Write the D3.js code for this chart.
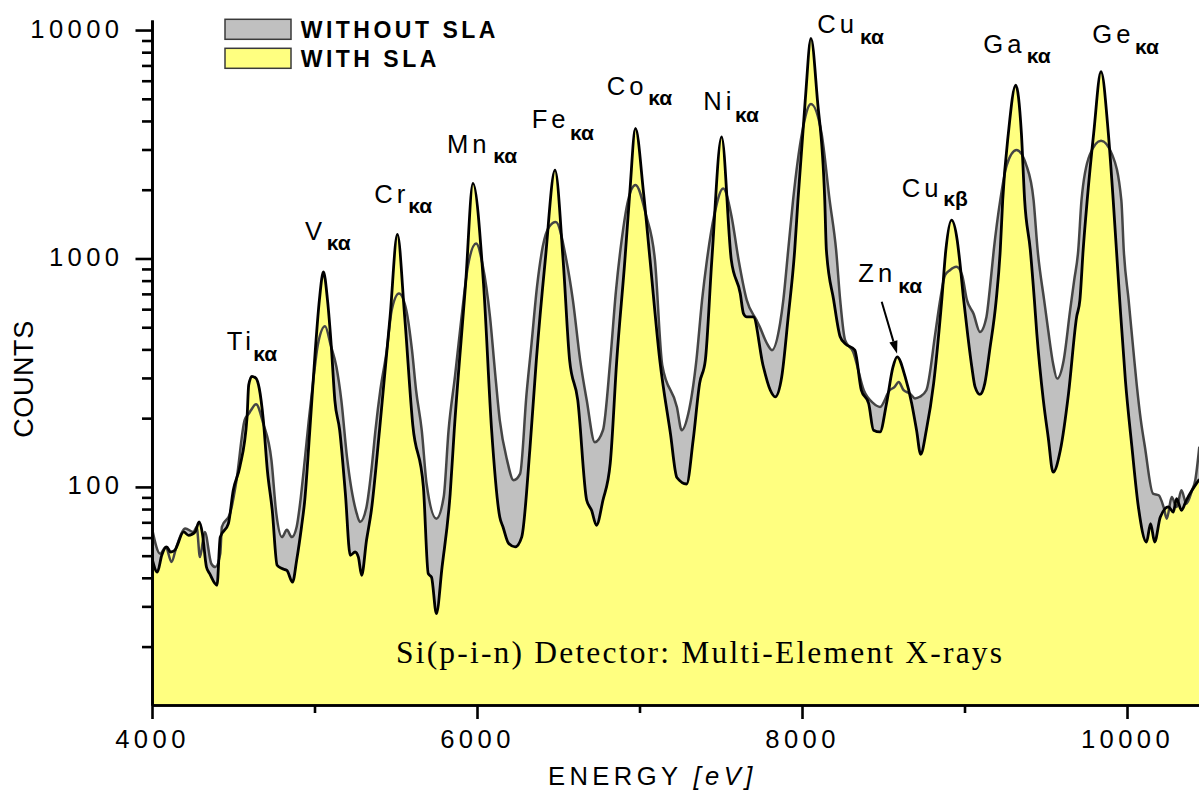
<!DOCTYPE html>
<html>
<head>
<meta charset="utf-8">
<script src="https://cdn.jsdelivr.net/npm/d3@7"></script>
<style>
  html, body { margin: 0; padding: 0; background: #fff; }
  svg { display: block; }
</style>
</head>
<body>
<svg id="chart" width="1199" height="791"></svg>
<script>
// Spectrum with the SLA: [energy (eV), counts]
const withSLA = [
  [4000,48.7],[4033,42.4],[4060,50.2],[4090,54.6],[4115,51.9],[4140,52.8],[4195,63.5],[4225,61.4],
  [4265,63.5],[4290,70.2],[4310,62.6],[4335,44.6],[4355,41.7],[4400,37.1],[4420,60.3],[4470,69.1],
  [4500,96.6],[4540,122],[4585,202],[4595,279],[4615,305],[4640,299],[4660,270],[4685,196],
  [4710,118],[4740,79],[4770,45.4],[4800,43.9],[4830,43.1],[4865,38.3],[4890,47.7],[4920,66.8],
  [4940,87.4],[4970,172],[5005,397],[5030,657],[5055,873],[5080,657],[5105,397],[5125,240],
  [5155,177],[5190,93.5],[5220,50.2],[5250,51.9],[5270,49.3],[5290,41.0],[5320,58.4],[5350,79.0],
  [5400,177],[5465,555],[5510,1274],[5555,555],[5605,186],[5670,100],[5700,41.7],[5720,40.3],
  [5750,27.9],[5785,44.6],[5835,93.5],[5860,177],[5930,777],[5975,2131],[6040,777],[6090,177],
  [6140,73.8],[6160,66.8],[6195,56.5],[6235,54.6],[6275,60.3],[6325,145],[6365,358],[6420,983],
  [6480,2437],[6530,983],[6570,358],[6620,240],[6675,87.4],[6705,79.0],[6735,67.9],[6775,87.4],
  [6820,127],[6860,358],[6910,983],[6940,1932],[6975,3710],[7025,1932],[7065,983],[7125,358],
  [7190,172],[7230,110],[7290,103],[7330,160],[7370,284],[7405,358],[7445,983],[7505,3409],
  [7565,983],[7620,703],[7640,574],[7660,555],[7700,555],[7760,341],[7805,265],[7835,248],
  [7875,303],[7915,555],[7955,1087],[7975,1800],[8020,4936],[8055,9197],[8095,4936],[8140,1800],
  [8150,1087],[8195,657],[8235,454],[8265,424],[8325,397],[8365,265],[8410,232],[8440,177],
  [8480,174],[8520,232],[8560,335],[8585,371],[8635,303],[8675,232],[8705,177],[8730,139],
  [8765,177],[8810,284],[8860,657],[8885,1087],[8920,1472],[8955,1203],[8970,983],[8995,657],
  [9020,461],[9045,335],[9065,274],[9095,254],[9125,284],[9155,397],[9195,657],[9220,1087],
  [9235,1800],[9270,3538],[9315,5743],[9350,3538],[9370,1800],[9405,1087],[9430,657],[9445,469],
  [9485,240],[9515,165],[9545,116],[9590,145],[9640,256],[9690,555],[9710,657],[9730,1087],
  [9755,1800],[9795,3538],[9840,6567],[9885,3538],[9915,1800],[9955,657],[9990,293],[10030,150],
  [10070,81.7],[10120,57.4],[10145,69.1],[10170,57.4],[10205,73.8],[10255,81.7],[10285,77.6],
  [10305,88.9],[10335,79.0],[10365,87.4],[10400,96.6],[10445,108]
];

// Spectrum without the SLA: [energy (eV), counts]
const withoutSLA = [
  [4000,65.9],[4050,51.0],[4085,54.6],[4120,46.9],[4150,54.6],[4205,65.7],[4255,63.5],[4275,66.8],
  [4295,49.3],[4325,63.5],[4365,46.1],[4390,44.6],[4420,51.0],[4430,66.8],[4480,76.4],[4520,107],
  [4570,196],[4595,209],[4610,217],[4640,230],[4685,189],[4735,131],[4765,76.4],[4800,60.3],
  [4830,65.0],[4860,60.3],[4890,66.8],[4910,83.1],[4940,131],[4965,196],[4995,303],[5020,417],
  [5065,505],[5100,417],[5135,335],[5165,240],[5200,135],[5260,76.4],[5280,70.2],[5320,81.7],
  [5350,118],[5375,177],[5405,265],[5445,397],[5475,594],[5520,703],[5565,594],[5600,397],
  [5625,265],[5660,177],[5690,103],[5750,72.6],[5795,90.3],[5825,177],[5865,307],[5905,555],
  [5945,935],[5995,1163],[6035,935],[6080,555],[6110,324],[6140,196],[6185,131],[6225,107],
  [6265,114],[6305,256],[6335,420],[6370,760],[6405,1130],[6445,1380],[6485,1446],[6550,983],[6590,657],
  [6635,358],[6675,240],[6725,157],[6775,177],[6820,358],[6855,720],[6890,1200],[6930,1800],
  [6975,2095],[7040,1548],[7095,983],[7140,341],[7230,224],[7260,177],[7300,209],[7350,358],
  [7385,657],[7415,983],[7460,1548],[7515,2026],[7565,1548],[7610,983],[7660,657],[7720,537],
  [7740,502],[7785,424],[7815,397],[7865,519],[7885,657],[7915,1087],[7945,1800],[8000,3538],
  [8055,4741],[8120,3538],[8170,1800],[8210,1087],[8235,657],[8265,439],[8315,390],[8380,265],
  [8440,232],[8480,224],[8540,265],[8570,274],[8595,288],[8625,265],[8665,256],[8695,244],
  [8725,248],[8765,265],[8820,469],[8850,657],[8880,845],[8910,889],[8950,919],[8985,845],
  [9015,657],[9055,574],[9095,477],[9135,555],[9155,726],[9180,1087],[9220,1800],[9260,2563],
  [9320,2981],[9380,2563],[9425,1800],[9450,1087],[9490,657],[9515,485],[9545,347],[9570,298],
  [9610,358],[9650,594],[9675,804],[9700,1087],[9720,1800],[9770,2835],[9840,3275],[9910,2835],
  [9965,1800],[9980,1087],[10010,657],[10045,358],[10060,279],[10085,196],[10110,150],[10160,93.5],
  [10195,91.9],[10225,81.7],[10245,72.6],[10275,90.3],[10305,81.7],[10335,96.6],[10365,84.5],
  [10400,96.6],[10420,107],[10445,150]
];

const xTickValues = [4000, 6000, 8000, 10000];
const xMinorTickValues = [5000, 7000, 9000];
const yTickValues = [100, 1000, 10000];

const peakElements = ['Ti', 'V', 'Cr', 'Mn', 'Fe', 'Co', 'Ni', 'Cu', 'Zn', 'Cu', 'Ga', 'Ge'];
const peakLines    = ['κα', 'κα', 'κα', 'κα', 'κα', 'κα', 'κα', 'κα', 'κα', 'κβ', 'κα', 'κα'];
const legendLabels = ['WITHOUT SLA', 'WITH SLA'];
const noteText = 'Si(p-i-n) Detector: Multi-Element X-rays';

// label placement: [element x, element baseline, line x, line baseline]
const labelLayout = [
  [226.7, 350, 253.3, 361], [305, 240, 326.7, 250], [374.3, 203.3, 408.3, 213.3],
  [447, 153, 493.3, 163.3], [531.7, 128.3, 570, 140], [606.7, 95, 648.3, 105],
  [703.3, 110, 735, 121.7], [817.3, 33.3, 860, 44], [858.3, 281.7, 898.3, 292.7],
  [901.7, 196.7, 943.3, 206], [983.3, 53.3, 1026.7, 63.3], [1092.3, 43.3, 1135, 54]
];

const SANS = '"Liberation Sans", Arial, Helvetica, sans-serif';
const SERIF = '"Liberation Serif", "Times New Roman", serif';

const svg = d3.select('#chart');
const plotLeft = 152, plotRight = 1199, plotTop = 20, plotBottom = 705;

const x = d3.scaleLinear().domain([4000, 10443]).range([plotLeft, plotRight]);
const y = d3.scaleLog().domain([11.1, 11066]).range([plotBottom, plotTop]);

svg.append('defs').append('clipPath').attr('id', 'plotClip')
  .append('rect').attr('x', plotLeft).attr('y', 0)
  .attr('width', plotRight - plotLeft).attr('height', plotBottom);

const area = d3.area()
  .x(d => x(d[0])).y0(plotBottom).y1(d => y(d[1]))
  .curve(d3.curveMonotoneX);
const line = d3.line()
  .x(d => x(d[0])).y(d => y(d[1]))
  .curve(d3.curveMonotoneX);

const plot = svg.append('g').attr('clip-path', 'url(#plotClip)');
plot.append('path').datum(withoutSLA).attr('d', area).attr('fill', '#c0c0c0');
plot.append('path').datum(withSLA).attr('d', area).attr('fill', '#ffff80');
plot.append('path').datum(withoutSLA).attr('d', line)
  .attr('fill', 'none').attr('stroke', '#454545').attr('stroke-width', 2.5)
  .attr('stroke-linejoin', 'round');
plot.append('path').datum(withSLA).attr('d', line)
  .attr('fill', 'none').attr('stroke', '#000').attr('stroke-width', 2.8)
  .attr('stroke-linejoin', 'round');

// note inside the plot
svg.append('text')
  .attr('x', 396).attr('y', 663)
  .attr('font-family', SERIF).attr('font-size', 31.5)
  .attr('textLength', 606).attr('lengthAdjust', 'spacing')
  .text(noteText);

// axes
function styleAxis(g) {
  g.selectAll('path.domain').attr('stroke', '#000').attr('stroke-width', 2.7);
  g.selectAll('.tick line').attr('stroke', '#000').attr('stroke-width', 2.6);
  g.selectAll('.tick text')
    .attr('font-family', SANS).attr('font-size', 25.6)
    .attr('letter-spacing', '4.4px').attr('fill', '#000');
}

const yMinor = [];
[10, 100, 1000].forEach(dec => {
  for (let k = 2; k <= 9; k++) {
    const v = k * dec;
    if (v >= y.domain()[0] && v <= y.domain()[1]) yMinor.push(v);
  }
});

const gxMinor = svg.append('g').attr('transform', `translate(0,${plotBottom})`)
  .call(d3.axisBottom(x).tickValues(xMinorTickValues).tickSize(8).tickSizeOuter(0).tickFormat(''));
styleAxis(gxMinor);

const gx = svg.append('g').attr('transform', `translate(0,${plotBottom})`)
  .call(d3.axisBottom(x).tickValues(xTickValues).tickSize(14).tickSizeOuter(0).tickFormat(d3.format('d')));
styleAxis(gx);
gx.selectAll('.tick text').attr('y', 43.3).attr('dy', 0);

const gyMinor = svg.append('g').attr('transform', `translate(${plotLeft},0)`)
  .call(d3.axisLeft(y).tickValues(yMinor).tickSize(10).tickSizeOuter(0).tickFormat(''));
styleAxis(gyMinor);

const gy = svg.append('g').attr('transform', `translate(${plotLeft},0)`)
  .call(d3.axisLeft(y).tickValues(yTickValues).tickSize(16.5).tickSizeOuter(0).tickFormat(d3.format('d')));
styleAxis(gy);
gy.selectAll('.tick text').attr('x', -28.5).attr('y', 7).attr('dy', 0);

// axis titles
svg.append('text')
  .attr('transform', 'translate(33.3,379) rotate(-90)')
  .attr('text-anchor', 'middle')
  .attr('font-family', SANS).attr('font-size', 27).attr('letter-spacing', '0.6px')
  .text('COUNTS');

const xTitle = svg.append('text')
  .attr('x', 548).attr('y', 785)
  .attr('font-family', SANS).attr('font-size', 25.6).attr('letter-spacing', '4.4px');
xTitle.append('tspan').text('ENERGY ');
xTitle.append('tspan').attr('font-style', 'italic').text('[eV]');

// legend
const legendFills = ['#c0c0c0', '#ffff80'];
legendLabels.forEach((lab, i) => {
  const top = 19.3 + i * 29;
  svg.append('rect')
    .attr('x', 225).attr('y', top).attr('width', 66).attr('height', 20)
    .attr('fill', legendFills[i]).attr('stroke', '#3a3a3a').attr('stroke-width', 1.5);
  svg.append('text')
    .attr('x', 300.7).attr('y', top + 18.4)
    .attr('font-family', SANS).attr('font-weight', 'bold').attr('font-size', 23)
    .attr('letter-spacing', '3.5px')
    .text(lab);
});

// peak labels
peakElements.forEach((el, i) => {
  const [ex, ey, lx, ly] = labelLayout[i];
  svg.append('text')
    .attr('x', ex).attr('y', ey)
    .attr('font-family', SANS).attr('font-size', 25.6).attr('letter-spacing', '4px')
    .text(el);
  svg.append('text')
    .attr('x', lx).attr('y', ly)
    .attr('font-family', SANS).attr('font-size', 21).attr('font-weight', 'bold')
    .text(peakLines[i]);
});

// arrow pointing at the Zn K-alpha peak
const znPeak = withSLA.find(d => d[0] === 8585);
const tip = [x(znPeak[0]), y(znPeak[1]) - 3];
const tail = [881.7, 301.7];
const dx = tip[0] - tail[0], dy = tip[1] - tail[1];
const len = Math.hypot(dx, dy), ux = dx / len, uy = dy / len;
const headLen = 13, headHalf = 4.2;
const base = [tip[0] - ux * headLen, tip[1] - uy * headLen];
svg.append('line')
  .attr('x1', tail[0]).attr('y1', tail[1]).attr('x2', base[0]).attr('y2', base[1])
  .attr('stroke', '#000').attr('stroke-width', 2);
svg.append('path')
  .attr('d', `M${tip[0]},${tip[1]} L${base[0] - uy * headHalf},${base[1] + ux * headHalf} L${base[0] + uy * headHalf},${base[1] - ux * headHalf} Z`)
  .attr('fill', '#000');
</script>
</body>
</html>
